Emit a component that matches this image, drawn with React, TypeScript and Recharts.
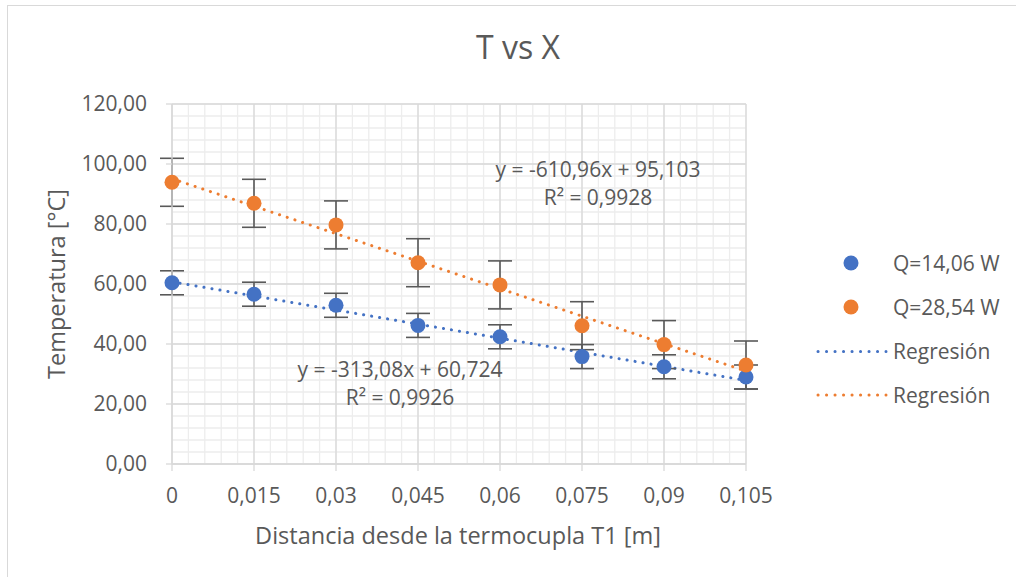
import React from "react";
import { ComposedChart, Scatter, Line, XAxis, YAxis, CartesianGrid, ErrorBar } from "recharts";

// distancia desde T1 [m]
const distances = [0, 0.015, 0.03, 0.045, 0.06, 0.075, 0.09, 0.105];
const xTickLabels = ["0", "0,015", "0,03", "0,045", "0,06", "0,075", "0,09", "0,105"];
const yTicks = [0, 20, 40, 60, 80, 100, 120];
const yTickLabels = ["0,00", "20,00", "40,00", "60,00", "80,00", "100,00", "120,00"];

// temperaturas medidas [°C]
const tempQ1 = [60.4, 56.6, 52.9, 46.2, 42.4, 35.8, 32.4, 29.0];
const tempQ2 = [93.9, 86.9, 79.7, 67.1, 59.7, 46.1, 39.8, 33.0];
const errQ1 = [4, 4, 4, 4, 4, 4, 4, 4];
const errQ2 = [8, 8, 8, 8, 8, 8, 8, 8];

// extremos de las rectas de regresión
const trendX = [0, 0.105];
const trendQ1 = [60.72, 27.85];
const trendQ2 = [95.1, 30.95];

// grilla secundaria
const X_MAX = 0.105;
const Y_MAX = 120;
const minorX = Array.from({ length: 36 }, (_, i) => +(i * 0.003).toFixed(3));
const minorY = Array.from({ length: 31 }, (_, i) => i * 4);

const BLUE = "#4472C4";
const ORANGE = "#ED7D31";
const TEXT = "#595959";
const FONT = "'Open Sans', sans-serif";

const q1Data = distances.map((x, i) => ({ x, y: tempQ1[i], err: errQ1[i] }));
const q2Data = distances.map((x, i) => ({ x, y: tempQ2[i], err: errQ2[i] }));
const trend1 = trendX.map((x, i) => ({ x, y: trendQ1[i] }));
const trend2 = trendX.map((x, i) => ({ x, y: trendQ2[i] }));

const tickStyle = { fill: TEXT, fontSize: 21, fontFamily: FONT };

// posiciones de la grilla menor
const minorVertical = ({ xAxis, offset }: any) => {
  if (xAxis && typeof xAxis.scale === "function") return minorX.map((v) => xAxis.scale(v));
  if (!offset) return [];
  return minorX.map((v) => offset.left + (v / X_MAX) * offset.width);
};
const minorHorizontal = ({ yAxis, offset }: any) => {
  if (yAxis && typeof yAxis.scale === "function") return minorY.map((v) => yAxis.scale(v));
  if (!offset) return [];
  return minorY.map((v) => offset.top + (1 - v / Y_MAX) * offset.height);
};

export default function App() {
  return (
    <div style={{ position: "absolute", left: 0, top: 0, width: 1016, height: 577, background: "#fff", fontFamily: FONT }}>
      <div style={{ position: "absolute", left: 7, top: 5, right: 0, bottom: 0, borderTop: "1.5px solid #d9d9d9", borderLeft: "1.5px solid #d9d9d9" }} />
      <ComposedChart width={1016} height={577} margin={{ top: 104, right: 270, bottom: 53, left: 0 }} style={{ position: "absolute", left: 0, top: 0 }}>
        <CartesianGrid
          stroke="#ededed"
          strokeWidth={1.3}
          verticalCoordinatesGenerator={minorVertical}
          horizontalCoordinatesGenerator={minorHorizontal}
        />
        <CartesianGrid stroke="#d9d9d9" strokeWidth={1.3} />
        <XAxis
          type="number"
          dataKey="x"
          domain={[0, X_MAX]}
          ticks={distances}
          tickFormatter={(v: number) => xTickLabels[distances.indexOf(v)]}
          height={60}
          tickSize={7}
          tickMargin={17}
          tick={tickStyle}
          axisLine={{ stroke: "#d9d9d9", strokeWidth: 1.3 }}
          tickLine={{ stroke: "#d9d9d9", strokeWidth: 1.3 }}
        />
        <YAxis
          type="number"
          dataKey="y"
          domain={[0, Y_MAX]}
          ticks={yTicks}
          tickFormatter={(v: number) => yTickLabels[yTicks.indexOf(v)]}
          width={172}
          tickSize={6}
          tickMargin={19}
          tick={tickStyle}
          axisLine={{ stroke: "#d9d9d9", strokeWidth: 1.3 }}
          tickLine={{ stroke: "#d9d9d9", strokeWidth: 1.3 }}
        />
        <Line data={trend1} dataKey="y" stroke={BLUE} strokeWidth={3} strokeDasharray="0.1 8" strokeLinecap="round" dot={false} isAnimationActive={false} />
        <Line data={trend2} dataKey="y" stroke={ORANGE} strokeWidth={3} strokeDasharray="0.1 8" strokeLinecap="round" dot={false} isAnimationActive={false} />
        <Scatter data={q1Data} dataKey="y" fill={BLUE} shape={(p: any) => <circle cx={p.cx} cy={p.cy} r={7.5} fill={BLUE} />} isAnimationActive={false}>
          <ErrorBar dataKey="err" direction="y" width={12} stroke={TEXT} strokeWidth={1.6} />
        </Scatter>
        <Scatter data={q2Data} dataKey="y" fill={ORANGE} shape={(p: any) => <circle cx={p.cx} cy={p.cy} r={7.5} fill={ORANGE} />} isAnimationActive={false}>
          <ErrorBar dataKey="err" direction="y" width={12} stroke={TEXT} strokeWidth={1.6} />
        </Scatter>
      </ComposedChart>

      <svg width={1016} height={577} style={{ position: "absolute", left: 0, top: 0, pointerEvents: "none" }}>
        <g fill={TEXT} fontFamily={FONT}>
          <text x={518} y={59} fontSize={32} textAnchor="middle">T vs X</text>
          <text x={598} y={176.5} fontSize={21} textAnchor="middle">y = -610,96x + 95,103</text>
          <text x={598} y={205} fontSize={21} textAnchor="middle">R² = 0,9928</text>
          <text x={400} y={376.5} fontSize={21} textAnchor="middle">y = -313,08x + 60,724</text>
          <text x={400} y={405} fontSize={21} textAnchor="middle">R² = 0,9926</text>
          <text x={458} y={544} fontSize={23.5} textAnchor="middle">Distancia desde la termocupla T1 [m]</text>
          <text x={65} y={284} fontSize={23.5} textAnchor="middle" transform="rotate(-90 65 284)">Temperatura [°C]</text>

          <circle cx={851} cy={263} r={7.5} fill={BLUE} />
          <text x={893} y={270.5} fontSize={21}>Q=14,06 W</text>
          <circle cx={851} cy={307} r={7.5} fill={ORANGE} />
          <text x={893} y={314.5} fontSize={21}>Q=28,54 W</text>
          <line x1={818} x2={886} y1={351.5} y2={351.5} stroke={BLUE} strokeWidth={3} strokeDasharray="0.1 8.4" strokeLinecap="round" />
          <text x={893} y={359} fontSize={21}>Regresión</text>
          <line x1={818} x2={886} y1={395} y2={395} stroke={ORANGE} strokeWidth={3} strokeDasharray="0.1 8.4" strokeLinecap="round" />
          <text x={893} y={402.5} fontSize={21}>Regresión</text>
        </g>
      </svg>
    </div>
  );
}
